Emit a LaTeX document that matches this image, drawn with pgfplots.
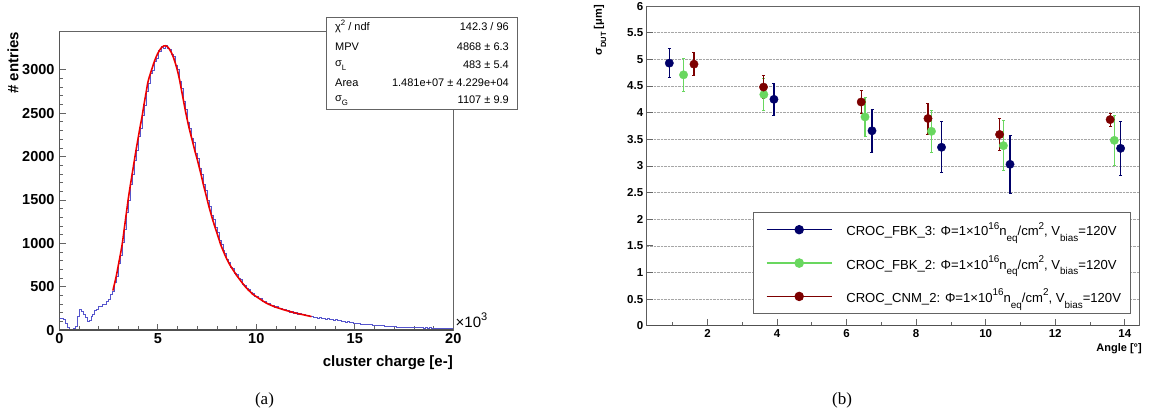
\documentclass[border=0pt]{standalone}
\usepackage{pgfplots}
\pgfplotsset{compat=1.18}
\usepackage{pgfplotstable}
\usepackage{fontspec}
\setmainfont{Liberation Sans}
\newfontfamily\panelserif{Liberation Serif}

\definecolor{histblue}{RGB}{85,85,205}
\definecolor{fitred}{RGB}{238,0,0}
\definecolor{cnavy}{RGB}{0,0,105}
\definecolor{cgreen}{RGB}{105,215,95}
\definecolor{cdred}{RGB}{125,0,0}
\definecolor{axgray}{RGB}{100,100,100}

\newcommand{\fs}[1]{\fontsize{#1}{#1}\selectfont}
\newcommand{\supx}[2][9.9]{\raisebox{0.5em}{\fs{#1}#2}}
\newcommand{\subx}[2][9.9]{\raisebox{-0.45em}{\fs{#1}#2}}

\pgfplotstableread{
x y
0.0 130
0.1 138
0.2 122
0.3 80
0.4 28
0.5 6
0.6 4
0.7 15
0.8 48
0.9 160
1.0 238
1.1 210
1.2 176
1.3 142
1.4 100
1.5 112
1.6 155
1.7 186
1.8 232
1.9 242
2.0 270
2.1 276
2.2 295
2.3 300
2.4 332
2.5 350
2.6 408
2.7 445
2.8 545
2.9 620
3.0 770
3.1 860
3.2 1015
3.3 1160
3.4 1360
3.5 1500
3.6 1680
3.7 1790
3.8 1960
3.9 2070
4.0 2230
4.1 2330
4.2 2480
4.3 2590
4.4 2750
4.5 2850
4.6 2960
4.7 3000
4.8 3100
4.9 3130
5.0 3220
5.1 3215
5.2 3270
5.3 3250
5.4 3285
5.5 3250
5.6 3240
5.7 3180
5.8 3160
5.9 3050
6.0 3005
6.1 2870
6.2 2790
6.3 2640
6.4 2550
6.5 2400
6.6 2330
6.7 2215
6.8 2160
6.9 2035
7.0 1985
7.1 1865
7.2 1800
7.3 1680
7.4 1615
7.5 1500
7.6 1430
7.7 1325
7.8 1275
7.9 1180
8.0 1130
8.1 1040
8.2 990
8.3 915
8.4 880
8.5 810
8.6 785
8.7 725
8.8 710
8.9 655
9.0 640
9.1 592
9.2 580
9.3 532
9.4 518
9.5 478
9.6 468
9.7 432
9.8 422
9.9 392
10.0 392
10.1 362
10.2 360
10.3 334
10.4 330
10.5 305
10.6 306
10.7 284
10.8 286
10.9 264
11.0 268
11.1 250
11.2 254
11.3 234
11.4 238
11.5 222
11.6 225
11.7 208
11.8 212
11.9 196
12.0 199
12.1 186
12.2 189
12.3 176
12.4 179
12.5 166
12.6 168
12.7 157
12.8 158
12.9 146
13.0 150
13.1 139
13.2 144
13.3 133
13.4 137
13.5 127
13.6 131
13.7 122
13.8 125
13.9 116
14.0 119
14.1 108
14.2 110
14.3 100
14.4 103
14.5 93
14.6 95
14.7 85
14.8 87
14.9 78
15.0 79
15.1 73
15.2 75
15.3 69
15.4 71
15.5 65
15.6 67
15.7 61
15.8 63
15.9 57
16.0 59
16.1 54
16.2 56
16.3 50
16.4 52
16.5 46
16.6 48
16.7 42
16.8 44
16.9 39
17.0 40
17.1 35
17.2 37
17.3 34
17.4 36
17.5 32
17.6 35
17.7 31
17.8 33
17.9 30
18.0 32
18.1 28
18.2 30
18.3 27
18.4 29
18.5 25
18.6 27
18.7 24
18.8 26
18.9 22
19.0 24
19.1 21
19.2 23
19.3 20
19.4 22
19.5 19
19.6 21
19.7 19
19.8 20
19.9 18
20.0 18
}\histtab

\pgfplotstableread{
x y
2.72 455
2.8 530
2.9 630
3.0 750
3.1 870
3.2 1000
3.3 1170
3.4 1340
3.5 1510
3.6 1660
3.7 1800
3.8 1940
3.9 2080
4.0 2210
4.1 2340
4.2 2460
4.3 2600
4.4 2730
4.5 2860
4.6 2940
4.7 3010
4.8 3080
4.9 3140
5.0 3190
5.1 3230
5.2 3260
5.3 3275
5.4 3278
5.5 3265
5.6 3235
5.7 3195
5.8 3140
5.9 3070
6.0 2990
6.1 2890
6.2 2770
6.3 2650
6.4 2530
6.5 2420
6.6 2320
6.7 2230
6.8 2140
6.9 2050
7.0 1970
7.1 1880
7.2 1790
7.3 1690
7.4 1600
7.5 1510
7.6 1420
7.7 1340
7.8 1260
7.9 1190
8.0 1120
8.1 1050
8.2 980
8.3 925
8.4 870
8.5 820
8.6 775
8.7 735
8.8 700
8.9 665
9.0 630
9.1 600
9.2 570
9.3 540
9.4 510
9.5 485
9.6 460
9.7 440
9.8 415
9.9 400
10.0 385
10.2 355
10.4 325
10.6 300
10.8 280
11.0 262
11.2 248
11.4 233
11.6 220
11.8 207
12.0 195
12.2 185
12.4 175
12.6 165
12.8 155
}\fittab

\pgfplotstableread{
x y e
0.90 4.93 0.27
3.91 4.25 0.30
6.73 3.66 0.41
8.73 3.35 0.48
10.70 3.03 0.55
13.88 3.33 0.51
}\fbkthree

\pgfplotstableread{
x y e
1.31 4.71 0.31
3.62 4.34 0.30
6.53 3.92 0.36
8.44 3.65 0.40
10.51 3.38 0.47
13.70 3.48 0.47
}\fbktwo

\pgfplotstableread{
x y e
1.61 4.91 0.22
3.61 4.48 0.22
6.42 4.20 0.22
8.34 3.89 0.29
10.40 3.59 0.30
13.58 3.87 0.12
}\cnmtwo

\begin{document}
\begin{tikzpicture}
\useasboundingbox (0pt,0pt) rectangle (1151pt,-416pt);

% ---------------- panel (a) ----------------
\begin{axis}[
  at={(59.3pt,-330pt)}, anchor=south west,
  scale only axis, width=394pt, height=298.3pt,
  xmin=0, xmax=20, ymin=0, ymax=3440,
  axis line style={axgray, line width=0.6pt},
  xtick={0,5,10,15,20}, ytick={0,500,1000,1500,2000,2500,3000},
  minor x tick num=4, minor y tick num=4,
  tick align=inside, major tick length=6.5pt, minor tick length=4pt,
  tick style={axgray, line width=0.8pt},
  xtick pos=bottom, ytick pos=left,
  scaled x ticks=false, scaled y ticks=false,
  /pgf/number format/assume math mode=true,
  /pgf/number format/1000 sep={},
  ticklabel style={font=\fs{14.5}\bfseries},
  yticklabel style={xshift=-1.3pt},
  clip=true,
]
\addplot[const plot mark left, histblue, line width=0.6pt] table[x=x,y=y]{\histtab};
\addplot[fitred, line width=1.6pt, smooth] table[x=x,y=y]{\fittab};
\draw[axgray!80!black, line width=1.3pt] (rel axis cs:0,1) -- (rel axis cs:0,0) -- (rel axis cs:1,0);
\end{axis}

% stats box
\draw[axgray, line width=0.8pt, fill=white] (326pt,-17.3pt) rectangle (517pt,-109pt);
\begin{scope}[every node/.style={font=\fs{11}, inner sep=0pt}]
\node[anchor=base west] at (335pt,-30.7pt) {χ\raisebox{0.45em}{\fs{7.8}2} / ndf};
\node[anchor=base east] at (509pt,-30.7pt) {142.3 / 96};
\node[anchor=base west] at (335pt,-50.3pt) {MPV};
\node[anchor=base east] at (509pt,-50.3pt) {4868 ± 6.3};
\node[anchor=base west] at (335pt,-66.5pt) {σ\raisebox{-0.4em}{\fs{7.8}L}};
\node[anchor=base east] at (509pt,-68.3pt) {483 ± 5.4};
\node[anchor=base west] at (335pt,-86pt) {Area};
\node[anchor=base east] at (509pt,-86pt) {1.481e+07 ± 4.229e+04};
\node[anchor=base west] at (335pt,-101.5pt) {σ\raisebox{-0.4em}{\fs{7.8}G}};
\node[anchor=base east] at (509pt,-103pt) {1107 ± 9.9};
\end{scope}

\node[anchor=east, rotate=90, font=\fs{15}\bfseries, inner sep=0pt] at (13pt,-31.7pt) {\# entries};
\node[anchor=base east, font=\fs{15}\bfseries, inner sep=0pt] at (453pt,-366pt) {cluster charge [e-]};
\node[anchor=base west, font=\fs{15}, inner sep=0pt] at (455.5pt,-327pt) {×10\raisebox{0.45em}{\fs{11}3}};
\node[anchor=base, font=\fs{17}\panelserif, inner sep=0pt] at (264.5pt,-404pt) {(a)};

% ---------------- panel (b) ----------------
\begin{axis}[
  at={(646.7pt,-325.7pt)}, anchor=south west,
  scale only axis, width=492.3pt, height=319.6pt,
  xmin=0.25, xmax=14.41, ymin=0, ymax=6,
  axis line style={axgray, line width=0.6pt},
  xtick={2,4,6,8,10,12,14}, minor xtick={1,3,5,7,9,11,13},
  ytick={0,0.5,1,1.5,2,2.5,3,3.5,4,4.5,5,5.5,6},
  yticklabels={0,0.5,1,1.5,2,2.5,3,3.5,4,4.5,5,5.5,6},
  tick align=inside, major tick length=6.5pt, minor tick length=3.5pt,
  tick style={axgray, line width=0.8pt},
  xtick pos=bottom, ytick pos=left,
  ymajorgrids, grid style={densely dotted, gray!70, line width=0.5pt},
  /pgf/number format/assume math mode=true,
  ticklabel style={font=\fs{11.5}\bfseries},
  legend cell align=left,
  legend image code/.code={\path (0pt,0pt); \draw[#1, mark repeat=2, mark phase=2] plot coordinates {(3.4pt,0pt) (35.9pt,0pt) (68.4pt,0pt)};},
  legend style={at={(0.2165,0.3548)}, anchor=north west, draw=axgray, line width=0.8pt,
    font=\fs{13.1}, inner xsep=9pt, inner ysep=9.5pt, row sep=18.4pt,
    nodes={inner sep=0pt},
    /tikz/every odd column/.append style={column sep=14pt}},
]
\addlegendimage{cnavy, line width=1pt, mark=*, mark size=4.2pt}
\addlegendentry{CROC\_FBK\_3: Φ=1×10\supx{16}n\subx{eq}/cm\supx{2}, V\subx{bias}=120V}
\addlegendimage{cgreen, line width=1.2pt, mark=*, mark size=4.2pt}
\addlegendentry{CROC\_FBK\_2: Φ=1×10\supx{16}n\subx{eq}/cm\supx{2}, V\subx{bias}=120V}
\addlegendimage{cdred, line width=1pt, mark=*, mark size=4.2pt}
\addlegendentry{CROC\_CNM\_2: Φ=1×10\supx{16}n\subx{eq}/cm\supx{2}, V\subx{bias}=120V}

\addplot[forget plot, cnavy, only marks, mark=*, mark size=4.2pt,
  error bars/.cd, y dir=both, y explicit,
  error bar style={line width=1.1pt},
  error mark options={rotate=90, mark size=1.5pt, line width=0.8pt}]
  table[x=x, y=y, y error=e]{\fbkthree};
\addplot[forget plot, cgreen, only marks, mark=*, mark size=4.2pt,
  error bars/.cd, y dir=both, y explicit,
  error bar style={line width=1.1pt},
  error mark options={rotate=90, mark size=1.5pt, line width=0.8pt}]
  table[x=x, y=y, y error=e]{\fbktwo};
\addplot[forget plot, cdred, only marks, mark=*, mark size=4.2pt,
  error bars/.cd, y dir=both, y explicit,
  error bar style={line width=1.1pt},
  error mark options={rotate=90, mark size=1.5pt, line width=0.8pt}]
  table[x=x, y=y, y error=e]{\cnmtwo};
\draw[axgray!80!black, line width=1.3pt] (rel axis cs:0,1) -- (rel axis cs:0,0) -- (rel axis cs:1,0);
\end{axis}

\node[anchor=east, rotate=90, font=\fs{11}\bfseries, inner sep=0pt] at (600pt,-5pt) {σ\raisebox{-0.4em}{\fs{7.5}DUT} [μm]};
\node[anchor=base east, font=\fs{11}\bfseries, inner sep=0pt] at (1142pt,-351pt) {Angle [°]};
\node[anchor=base, font=\fs{17}\panelserif, inner sep=0pt] at (842pt,-404pt) {(b)};
\end{tikzpicture}
\end{document}
